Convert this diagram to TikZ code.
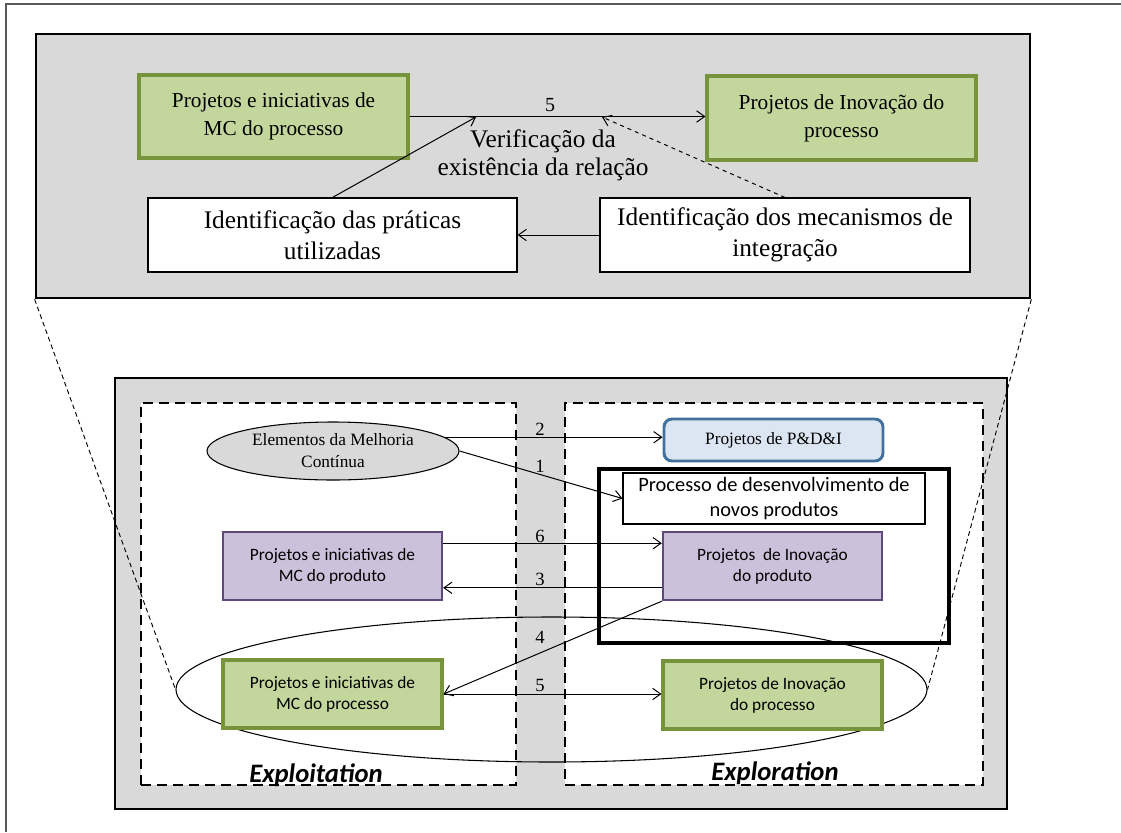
\documentclass[tikz,border=0pt]{standalone}
\usepackage{fontspec}
\setmainfont{Liberation Serif}
\setsansfont{Carlito}
\usetikzlibrary{arrows.meta,calc,shapes.geometric}
\definecolor{panelgray}{HTML}{D9D9D9}
\definecolor{framegray}{HTML}{595959}
\definecolor{greenfill}{HTML}{C3D69B}
\definecolor{greenline}{HTML}{77933C}
\definecolor{purplefill}{HTML}{CCC1DA}
\definecolor{purpleline}{HTML}{5F497A}
\definecolor{bluefill}{HTML}{DCE6F2}
\definecolor{blueline}{HTML}{41719C}

\begin{document}
\begin{tikzpicture}[x=0.75pt,y=-0.75pt,
  % box size given in pixels of the 1121 x 832 canvas
  sz/.style n args={2}{minimum width=#1*0.75pt,minimum height=#2*0.75pt,inner sep=0pt},
  panel/.style={draw=black,line width=2pt,fill=panelgray},
  zone/.style={draw=black,line width=2.2pt,dash pattern=on 7.5pt off 4.5pt,fill=white},
  npdframe/.style={draw=black,line width=2.3pt},
  greenbox/.style={draw=greenline,fill=greenfill,line width=2.3pt,align=center},
  purplebox/.style={draw=purpleline,fill=purplefill,line width=1.7pt,align=center},
  bluebox/.style={draw=blueline,fill=bluefill,line width=2.2pt,rounded corners=6pt,align=center},
  whitebox/.style={draw=black,fill=white,line width=0.8pt,align=center},
  serifA/.style={font=\fontsize{16}{21}\selectfont},
  serifB/.style={font=\fontsize{19}{23}\selectfont},
  serifC/.style={font=\fontsize{13}{16.5}\selectfont},
  sansA/.style={font=\sffamily\fontsize{13}{15.75}\selectfont},
  sansB/.style={font=\sffamily\fontsize{15.3}{18.75}\selectfont},
  zonelabel/.style={font=\sffamily\bfseries\itshape\fontsize{20}{22}\selectfont,anchor=base,inner sep=0pt},
  numlabel/.style={font=\fontsize{14}{16}\selectfont,inner sep=0pt},
  arr/.style={-{Straight Barb[length=6pt,width=8.5pt]},line width=0.75pt},
  zoomline/.style={line width=0.7pt,dash pattern=on 3.5pt off 2.5pt},
]
\useasboundingbox (0,0) rectangle (1121,832);

% outer frame
\draw[framegray,line width=0.9pt] (1121,4) -- (6,4) -- (6,832);

% ---------------- detail panel (top) ----------------
\node[panel,sz={994}{264}] (topP) at (533,166) {};

\node[greenbox,serifA,sz={269}{83}] (tgL) at (273.5,116.5) {Projetos e iniciativas de\\MC do processo};
\node[greenbox,serifA,sz={269}{84}] (tgR) at (841.5,118) {Projetos de Inovação do\\processo};
\node[whitebox,serifB,sz={369}{74}] (twL) at (332.5,235) {Identificação das práticas\\utilizadas};
\node[whitebox,serifB,sz={370}{74}] (twR) at (785,235) {Identificação dos mecanismos de\\integração};

\node[font=\fontsize{15}{17}\selectfont,inner sep=0pt] (t5) at (550,105) {5};
\node[font=\fontsize{19}{21}\selectfont,align=center,inner sep=0pt] (verif) at (543,155) {Verificação da\\existência da relação};

\coordinate (mPract) at (476,117);
\coordinate (mMech) at (602,117);

\draw[arr] (tgL.east) -- (tgL.east -| tgR.west);
\draw[arr] (twL.north) -- (mPract);
\draw[arr,dashed] (twR.north) -- (mMech);
\draw[arr] (twR.west) -- (twL.east);

% ---------------- overview panel (bottom) ----------------
\node[panel,sz={892}{431}] (botP) at (561,593.5) {};
\node[zone,sz={375}{382}] (exploit) at (328.5,594) {};
\node[zone,sz={418}{382}] (explore) at (774,594) {};
\node[npdframe,sz={350}{174}] (npd) at (774,556) {};

\node[draw=black,line width=0.8pt,ellipse,sz={751}{145}] (procE) at (551.5,689.5) {};

\node[ellipse,draw=black,line width=0.8pt,fill=panelgray,serifC,align=center,
      sz={252}{58}] (elem) at (333,451) {Elementos da Melhoria\\Contínua};
\node[bluebox,serifC,sz={219}{42}] (pdi) at (773.5,440) {Projetos de P\&D\&I};
\node[whitebox,sansB,sz={302}{51}] (npdbox) at (774,498.5) {Processo de desenvolvimento de\\novos produtos};
\node[purplebox,sansA,sz={219}{68}] (pL) at (332.5,566) {Projetos e iniciativas de\\MC do produto};
\node[purplebox,sansA,sz={219}{68}] (pR) at (772.5,566) {Projetos\ \ de Inovação\\do produto};
\node[greenbox,sansA,sz={219}{68}] (gL) at (332.5,694) {Projetos e iniciativas de\\MC do processo};
\node[greenbox,sansA,sz={219}{68}] (gR) at (772.5,695) {Projetos de Inovação\\do processo};

\node[zonelabel] (lblExploit) at (316,782) {Exploitation};
\node[zonelabel] (lblExplore) at (775,780) {Exploration};

% relations
\draw[arr] (elem.7) -- (elem.7 -| pdi.west);
\draw[arr] (elem.east) -- (npdbox.west);
\coordinate (pLa) at ($(pL.north east)!0.176!(pL.south east)$);
\coordinate (pLb) at ($(pL.north east)!0.81!(pL.south east)$);
\draw[arr] (pLa) -- (pLa -| pR.west);
\draw[arr] (pLb -| pR.west) -- (pLb);
\draw[arr] (pR.south west) -- (gL.east);
\draw[arr] (gL.east) -- (gL.east -| gR.west);

\node[numlabel] (n2) at (540,429) {2};
\node[numlabel] (n1) at (540,466) {1};
\node[numlabel] (n6) at (540,536) {6};
\node[numlabel] (n3) at (540,579) {3};
\node[numlabel] (n4) at (540,637) {4};
\node[numlabel] (n5) at (540,685) {5};

% zoom lines between the two panels
\draw[zoomline] (topP.south west) -- (procE.west);
\draw[zoomline] (topP.south east) -- (procE.east);
\end{tikzpicture}
\end{document}
